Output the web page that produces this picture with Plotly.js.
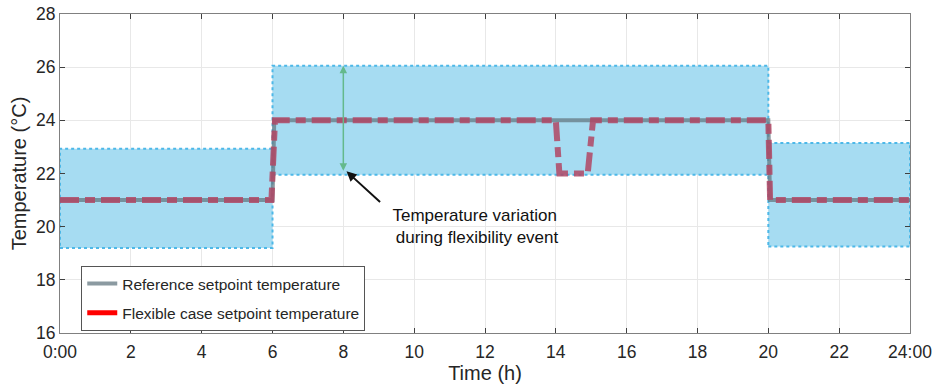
<!DOCTYPE html>
<html><head><meta charset="utf-8">
<script src="https://cdn.plot.ly/plotly-3.0.1.min.js"></script>
<style>body{margin:0;background:#fff}#c{width:939px;height:386px}</style>
</head><body><div id="c"></div>
<script>
// Band (allowed temperature range) segments
const bandStart = [0, 6, 20];
const bandEnd = [6, 20, 24];
const bandLow = [19.2, 21.95, 19.25];
const bandHigh = [22.93, 26.05, 23.15];
// Reference setpoint
const refX = [0, 6, 6.05, 20, 20.05, 24];
const refY = [21, 21, 24, 24, 21, 21];
// Flexible case setpoint
const flexX = [0, 5.97, 6.07, 14, 14.1, 14.9, 15.05, 20, 20.05, 24];
const flexY = [21, 21, 24, 24, 22, 22, 24, 24, 21, 21];
const xTicks = [0, 2, 4, 6, 8, 10, 12, 14, 16, 18, 20, 22, 24];
const xTickText = ['0:00', '2', '4', '6', '8', '10', '12', '14', '16', '18', '20', '22', '24:00'];
const yTicks = [16, 18, 20, 22, 24, 26, 28];

const traces = [];
for (let i = 0; i < bandStart.length; i++) {
  traces.push({
    x: [bandStart[i], bandEnd[i], bandEnd[i], bandStart[i], bandStart[i]],
    y: [bandLow[i], bandLow[i], bandHigh[i], bandHigh[i], bandLow[i]],
    mode: 'lines', fill: 'toself', fillcolor: 'rgb(166,220,242)',
    line: {color: 'rgb(77,184,232)', width: 2, dash: 'dot'},
    showlegend: false, hoverinfo: 'skip'
  });
}
traces.push({
  x: refX, y: refY, mode: 'lines', name: 'Reference setpoint temperature',
  legendgroup: 'a',
  line: {color: 'rgba(100,120,130,0.75)', width: 4}
});
traces.push({
  x: flexX, y: flexY, mode: 'lines', name: 'Flexible case setpoint temperature',
  line: {color: 'rgba(176,70,100,0.85)', width: 6, dash: '19px,6px,10px,6px'},
  showlegend: false
});
traces.push({
  x: [null], y: [null], mode: 'lines', name: 'Flexible case setpoint temperature',
  legendgroup: 'b',
  line: {color: 'rgb(255,0,0)', width: 5}
});

const layout = {
  width: 939, height: 386,
  margin: {l: 60, r: 29, t: 14, b: 53},
  paper_bgcolor: '#fff', plot_bgcolor: '#fff',
  font: {family: 'Liberation Sans, Arial, sans-serif', size: 17, color: '#262626'},
  xaxis: {
    range: [0, 24], tickvals: xTicks, ticktext: xTickText,
    tickfont: {size: 17.5},
    showgrid: true, gridcolor: '#e8e8e8', zeroline: false,
    showline: true, linecolor: '#808080', mirror: 'ticks',
    ticks: 'inside', ticklen: 5, tickcolor: '#404040', ticklabelstandoff: 3,
    title: {text: 'Time (h)', font: {size: 20}, standoff: 4}
  },
  yaxis: {
    range: [16, 28], tickvals: yTicks,
    tickfont: {size: 17.5},
    showgrid: true, gridcolor: '#e8e8e8', zeroline: false,
    showline: true, linecolor: '#808080', mirror: 'ticks',
    ticks: 'inside', ticklen: 5, tickcolor: '#404040',
    title: {text: 'Temperature (°C)', font: {size: 20}, standoff: 4}
  },
  legend: {
    x: 0.025, y: 0.21, xanchor: 'left', yanchor: 'top',
    bgcolor: '#fff', bordercolor: '#555', borderwidth: 1,
    font: {size: 15.5, color: '#262626'}, tracegroupgap: 6, itemwidth: 30
  },
  annotations: [
    {x: 8, y: 26.05, ax: 8, ay: 22.05, xref: 'x', yref: 'y', axref: 'x', ayref: 'y',
     showarrow: true, arrowhead: 2, startarrowhead: 2, arrowside: 'end+start',
     arrowcolor: 'rgb(100,185,140)', arrowwidth: 1.5, arrowsize: 1, text: ''},
    {x: 8.09, y: 22.08, ax: 9.08, ay: 20.88, xref: 'x', yref: 'y', axref: 'x', ayref: 'y',
     showarrow: true, arrowhead: 2, arrowcolor: '#111', arrowwidth: 2, arrowsize: 1, text: ''},
    {x: 11.72, y: 20.0, xref: 'x', yref: 'y', showarrow: false, align: 'center',
     text: 'Temperature variation<br> during flexibility event', font: {size: 17, color: '#111'}}
  ]
};
Plotly.newPlot('c', traces, layout, {displayModeBar: false, staticPlot: true});
</script></body></html>
